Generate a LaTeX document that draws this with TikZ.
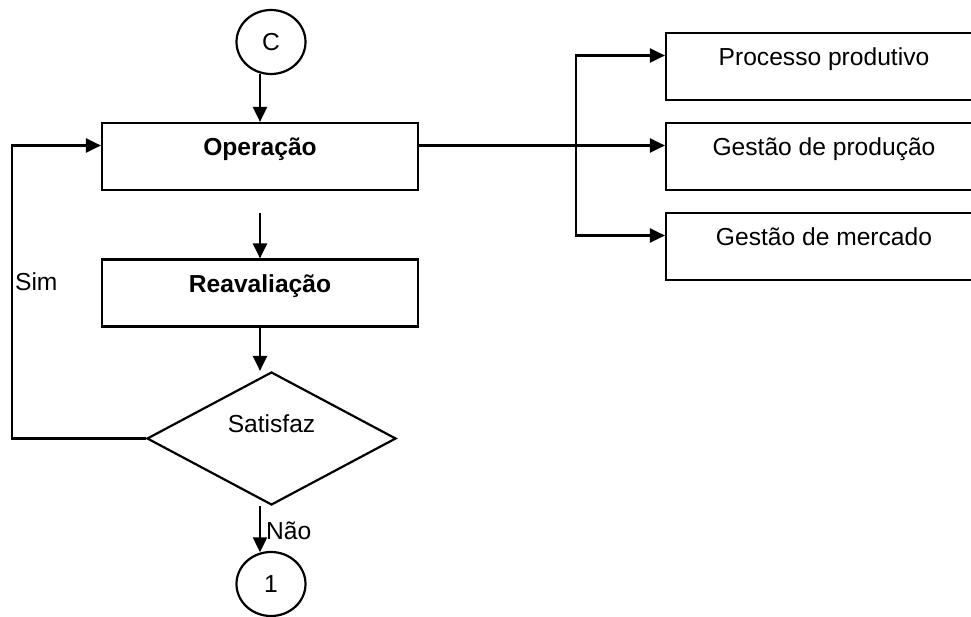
\documentclass[tikz,border=0pt]{standalone}
\usepackage{fontspec}
\setmainfont{Liberation Sans}
\usetikzlibrary{arrows.meta,shapes.geometric}
\begin{document}
\begin{tikzpicture}[x=1pt,y=-1pt,
  every node/.style={inner sep=0pt},
  line/.style={line width=2.2pt},
  arr/.style={line, -{Triangle[length=15pt,width=14pt]}},
  darr/.style={line, {Triangle[length=15pt,width=14pt]}-{Triangle[length=15pt,width=14pt]}},
  box/.style={draw, line width=2.2pt, minimum width=316pt, minimum height=67pt},
  conn/.style={draw, ellipse, line width=2.2pt, minimum width=69pt, minimum height=64pt},
  dec/.style={draw, diamond, line width=2.2pt, minimum width=249pt, minimum height=133pt},
  lbl/.style={font=\fontsize{24.6}{29}\selectfont},
  blbl/.style={font=\fontsize{24.6}{29}\selectfont\bfseries}]

\useasboundingbox (0,0) rectangle (971,617);
\clip (0,0) rectangle (971,617);

% main column
\node[conn, lbl] (c) at (271,42) {C};
\node[box] (op) at (260,156.5) {};
\node[blbl, anchor=base] (optx) at ([yshift=-34pt]op.north) {Operação};
\node[box] (rea) at (260,293) {};
\node[blbl, anchor=base] (reatx) at ([yshift=-34pt]rea.north) {Reavaliação};
\node[dec] (dia) at (271.5,438.5) {};
\node[lbl, anchor=base] (diatx) at ([yshift=6pt]dia.center) {Satisfaz};
\node[conn, lbl] (one) at (271,584) {1};

% areas fed by the operation
\node[box] (p1) at (824,66.5) {};
\node[lbl, anchor=base] (p1tx) at ([yshift=-34pt]p1.north) {Processo produtivo};
\node[box] (p2) at (824,156.5) {};
\node[lbl, anchor=base] (p2tx) at ([yshift=-34pt]p2.north) {Gestão de produção};
\node[box] (p3) at (824,246.5) {};
\node[lbl, anchor=base] (p3tx) at ([yshift=-34pt]p3.north) {Gestão de mercado};

% helper points
\coordinate (gap) at (260,213);
\coordinate (lp) at (12,291);
\coordinate (opin) at ([yshift=11pt]op.west);
\coordinate (opout) at ([yshift=11pt]op.east);
\coordinate (in1) at ([yshift=11pt]p1.west);
\coordinate (in2) at ([yshift=11pt]p2.west);
\coordinate (in3) at ([yshift=11pt]p3.west);
\coordinate (br) at (576,0);

% connectors
\draw[arr] (c.-108 -| op.north) -- (op.north);
\draw[arr] (gap) -- (rea.north);
\draw[arr] (rea.south) -- (rea.south |- dia.north);
\draw[arr] (dia.south -| rea.south) --
  node[lbl, anchor=base west, xshift=5pt, yshift=-10pt] (nao) {Não}
  (one.108 -| rea.south);
\draw[arr] (dia.west) -| (lp)
  node[lbl, anchor=base west, xshift=2pt] (sim) {Sim} |- (opin);
\draw[arr] (opout) -- (in2);
\draw[darr] (in1) -| (br |- in3) -- (in3);
\end{tikzpicture}
\end{document}
